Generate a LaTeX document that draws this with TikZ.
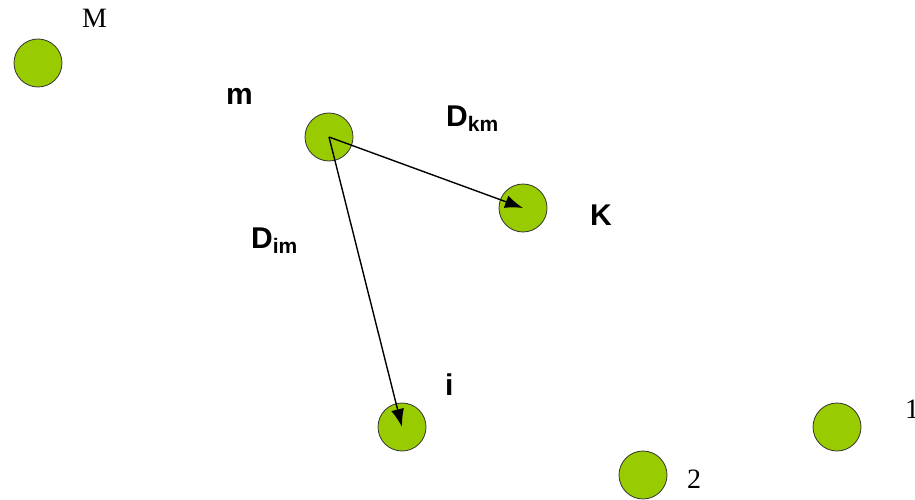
\documentclass[tikz,border=0pt]{standalone}
\usepackage{fontspec}
\setmainfont{Liberation Serif}
\setsansfont{Liberation Sans}
\usetikzlibrary{arrows.meta}
\definecolor{sitegreen}{RGB}{153,204,0}

% subscripted distance label
\newcommand{\dist}[2]{#1\raisebox{-5pt}{\fontsize{21}{21}\selectfont #2}}

\begin{document}
\begin{tikzpicture}
    [x=1pt,y=-1pt,>={Latex[length=18pt,width=13pt]},
     site/.style={circle,draw=black!80,line width=0.8pt,fill=sitegreen,minimum size=48pt,inner sep=0pt},
     serif/.style={anchor=base west,inner sep=0pt,font=\fontsize{28}{34}\selectfont},
     label/.style={anchor=base west,inner sep=0pt,font=\fontsize{30}{36}\selectfont\sffamily\bfseries}]

    \useasboundingbox (0,0) rectangle (915,500);

    % sites
    \node[site] (M) at (38,63) {};
    \node[site] (m) at (329,137) {};
    \node[site] (K) at (523,208) {};
    \node[site] (i) at (402,427) {};
    \node[site] (s1) at (837,427) {};
    \node[site] (s2) at (643,475) {};

    % names
    \node[serif] (Mname) at (82,28) {M};
    \node[label] (mname) at (226,105) {m};
    \node[label] (Kname) at (590,225) {K};
    \node[label] (iname) at (445,395) {i};
    \node[serif] (s1name) at (905,418) {1};
    \node[serif] (s2name) at (687,488) {2};

    % distances
    \draw[->,line width=1.4pt] (m.center) -- (K.center);
    \draw[->,line width=1.4pt] (m.center) -- (i.center);
    \node[label] (dkm) at (446,127) {\dist{D}{km}};
    \node[label] (dim) at (251,248) {\dist{D}{im}};

\end{tikzpicture}
\end{document}
